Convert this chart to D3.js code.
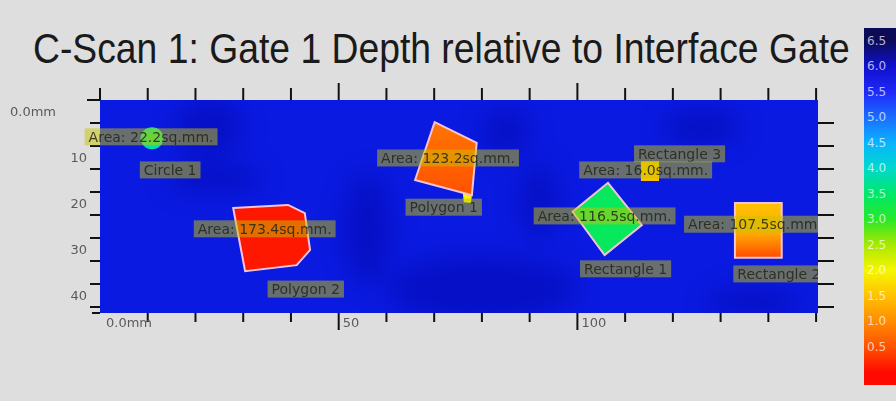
<!DOCTYPE html>
<html>
<head>
<meta charset="utf-8">
<script src="https://cdn.jsdelivr.net/npm/d3@7"></script>
<style>
  html, body { margin: 0; padding: 0; background: #dedede; }
  svg { display: block; }
</style>
</head>
<body>
<svg id="chart" width="896" height="401"></svg>
<script>
// ---------- DATA ----------
const titleText = "C-Scan 1: Gate 1 Depth relative to Interface Gate";
const xTickValues = [0,10,20,30,40,50,60,70,80,90,100,110,120,130,140,150];
const xMajorTicks = [50, 100];
const yTickValues = [0,5,10,15,20,25,30,35,40,45];
const yLabelValues = [0,10,20,30,40];
const yLabelTexts = ["0.0mm","10","20","30","40"];
const colorbarLabels = ["6.5","6.0","5.5","5.0","4.5","4.0","3.5","3.0","2.5","2.0","1.5","1.0","0.5",""];
const colorbarValues = [6.5,6.0,5.5,5.0,4.5,4.0,3.5,3.0,2.5,2.0,1.5,1.0,0.5,0.0];
const colorbarColors = ["#0b0b58","#1010cc","#2028f8","#1a6cff","#08b4ff","#00d8cc","#00e86a","#28e82a","#a8e800","#f6f600","#ffc200","#ff8c00","#ff5200","#ff0a00"];

// background depth variation (mm coords): darker patches in the scan
const bgPatches = [
  {x: 23, y: 6, rx: 7, ry: 6},
  {x: 24, y: 17, rx: 10, ry: 3},
  {x: 56, y: 28, rx: 5, ry: 12},
  {x: 80, y: 41, rx: 20, ry: 7},
  {x: 85, y: 7, rx: 5, ry: 5},
  {x: 126, y: 6, rx: 8, ry: 4},
  {x: 92, y: 22, rx: 4, ry: 8},
  {x: 137, y: 44, rx: 10, ry: 3}
];

// defects (mm coords) and depth value
const polygon2 = [[27.9,23.5],[39.4,22.8],[42.9,24.6],[44.0,32.6],[41.2,35.9],[30.4,37.2]];
const polygon2Depth = 0.1;
const polygon1 = [[70.1,4.8],[78.9,9.3],[77.9,20.7],[66.0,17.4]];
const polygon1Depth = 0.6;
const polygon1Tail = [[76.0,20.2],[77.9,20.7],[77.7,22.4],[76.2,22.2]];
const polygon1TailDepth = 2.0;
const rectangle1 = [[106.4,18.0],[113.5,27.2],[105.7,33.7],[99.0,24.3]];
const rectangle1Depth = 3.4;
const rectangle2 = [[133.0,22.4],[142.8,22.4],[142.8,34.3],[133.0,34.3]];
const rectangle2DepthTop = 1.5;
const rectangle2DepthBottom = 0.45;
const rectangle3 = [[113.3,13.3],[117.1,13.3],[117.1,17.6],[113.3,17.6]];
const rectangle3Depth = 1.5;
const circle1 = {cx: 10.9, cy: 8.3, r: 2.4};
const circle1Depth = 3.3;

// annotation labels (text centre in mm)
const labelTexts = ["Area: 22.2sq.mm.","Circle 1","Area: 173.4sq.mm.","Polygon 2","Area: 123.2sq.mm.","Polygon 1","Area: 116.5sq.mm.","Rectangle 1","Rectangle 3","Area: 16.0sq.mm.","Area: 107.5sq.mm.","Rectangle 2"];
const labelX = [10.7, 14.7, 34.5, 43.1, 72.9, 72.0, 105.7, 110.1, 121.4, 114.3, 137.2, 142.2];
const labelY = [8.0, 15.2, 28.0, 41.1, 12.6, 23.3, 25.2, 36.7, 11.7, 15.2, 27.0, 37.8];

// ---------- DRAW ----------
const svg = d3.select("#chart");
const W = 896, H = 401;
const plot = {left: 100, right: 818, top: 100, bottom: 313};
const x = d3.scaleLinear().domain([0, 150.4]).range([plot.left, plot.right]);
const y = d3.scaleLinear().domain([0, 46.3]).range([plot.top, plot.bottom]);
const color = d3.scaleLinear().domain(colorbarValues).range(colorbarColors).clamp(true);

const defs = svg.append("defs");
defs.append("filter").attr("id","blur").attr("x","-50%").attr("y","-50%").attr("width","200%").attr("height","200%")
  .append("feGaussianBlur").attr("stdDeviation", 12);
defs.append("clipPath").attr("id","plotclip").append("rect")
  .attr("x", plot.left).attr("y", plot.top).attr("width", plot.right-plot.left).attr("height", plot.bottom-plot.top);
defs.append("clipPath").attr("id","labelclip").append("rect")
  .attr("x", 0).attr("y", 0).attr("width", plot.right).attr("height", H);

// background
svg.append("rect").attr("width", W).attr("height", H).attr("fill", "#dedede");

// title
svg.append("text").attr("transform", "translate(33,63) scale(1,1.12)")
  .attr("font-family", "'Liberation Sans', Arial, sans-serif").attr("font-size", 37.3)
  .attr("fill", "#1a1a1a")
  .text(titleText);

// plot area
const pg = svg.append("g").attr("clip-path", "url(#plotclip)");
pg.append("rect").attr("x", plot.left).attr("y", plot.top)
  .attr("width", plot.right-plot.left).attr("height", plot.bottom-plot.top).attr("fill", "#0a1ae0");
pg.append("g").attr("filter","url(#blur)").selectAll("ellipse").data(bgPatches).join("ellipse")
  .attr("cx", d => x(d.x)).attr("cy", d => y(d.y))
  .attr("rx", d => x(d.rx) - x(0)).attr("ry", d => y(d.ry) - y(0))
  .attr("fill", "#050c9a").attr("opacity", 0.38);

const line = d3.line().x(d => x(d[0])).y(d => y(d[1])).curve(d3.curveLinearClosed);
const outline = "#f4c4d6";

// gradients
const g2 = defs.append("linearGradient").attr("id","rect2grad").attr("x1",0).attr("y1",0).attr("x2",0).attr("y2",1);
g2.append("stop").attr("offset","0%").attr("stop-color", color(rectangle2DepthTop));
g2.append("stop").attr("offset","55%").attr("stop-color", color((rectangle2DepthTop+rectangle2DepthBottom)/2+0.3));
g2.append("stop").attr("offset","100%").attr("stop-color", color(rectangle2DepthBottom));
const gc = defs.append("radialGradient").attr("id","circgrad");
gc.append("stop").attr("offset","0%").attr("stop-color", color(circle1Depth));
gc.append("stop").attr("offset","100%").attr("stop-color", color(circle1Depth+0.6));
const gp1 = defs.append("linearGradient").attr("id","poly1grad").attr("x1",0).attr("y1",0).attr("x2",0).attr("y2",1);
gp1.append("stop").attr("offset","0%").attr("stop-color", color(polygon1Depth+0.2));
gp1.append("stop").attr("offset","100%").attr("stop-color", color(polygon1Depth-0.1));

pg.append("path").attr("d", line(polygon2)).attr("fill", color(polygon2Depth)).attr("stroke", outline).attr("stroke-width", 2);
pg.append("path").attr("d", line(polygon1Tail)).attr("fill", color(polygon1TailDepth));
pg.append("path").attr("d", line(polygon1)).attr("fill", "url(#poly1grad)").attr("stroke", outline).attr("stroke-width", 2);
pg.append("path").attr("d", line(rectangle1)).attr("fill", color(rectangle1Depth)).attr("stroke", outline).attr("stroke-width", 2);
pg.append("path").attr("d", line(rectangle2)).attr("fill", "url(#rect2grad)").attr("stroke", outline).attr("stroke-width", 2);
pg.append("path").attr("d", line(rectangle3)).attr("fill", color(rectangle3Depth));
pg.append("ellipse").attr("cx", x(circle1.cx)).attr("cy", y(circle1.cy))
  .attr("rx", x(circle1.r)-x(0)).attr("ry", y(circle1.r)-y(0)).attr("fill", "url(#circgrad)");

// axes ticks
const tickColor = "#111";
const ax = svg.append("g").attr("stroke", tickColor).attr("stroke-width", 2);
ax.selectAll("line.top").data(xTickValues).join("line")
  .attr("x1", d => x(d)).attr("x2", d => x(d))
  .attr("y1", d => xMajorTicks.includes(d) ? plot.top - 17 : plot.top - 12).attr("y2", plot.top);
ax.selectAll("line.bot").data(xTickValues.filter(d => d > 0)).join("line")
  .attr("x1", d => x(d)).attr("x2", d => x(d))
  .attr("y1", plot.bottom).attr("y2", d => xMajorTicks.includes(d) ? plot.bottom + 17 : plot.bottom + 9);
ax.selectAll("line.left").data(yTickValues).join("line")
  .attr("x1", d => d === 0 ? plot.left - 13 : plot.left - 10).attr("x2", plot.left)
  .attr("y1", d => y(d)).attr("y2", d => y(d));
ax.append("line").attr("x1", plot.left - 8).attr("x2", plot.left).attr("y1", plot.bottom).attr("y2", plot.bottom);
ax.selectAll("line.right").data(yTickValues.filter(d => d > 0)).join("line")
  .attr("x1", plot.right).attr("x2", plot.right + 16)
  .attr("y1", d => y(d)).attr("y2", d => y(d));

// axis labels
const lab = svg.append("g").attr("font-family", "'DejaVu Sans', Verdana, sans-serif").attr("font-size", 13).attr("fill", "#5a5a5a");
lab.selectAll("text.yl").data(yLabelValues).join("text")
  .attr("x", (d,i) => i === 0 ? 10 : 87).attr("text-anchor", (d,i) => i === 0 ? "start" : "end")
  .attr("y", d => y(d) + 11).attr("dominant-baseline", "central")
  .text((d,i) => yLabelTexts[i]);
lab.append("text").attr("x", x(0) + 6).attr("y", plot.bottom + 9).attr("dominant-baseline", "central").text("0.0mm");
lab.selectAll("text.xl").data(xMajorTicks).join("text")
  .attr("x", d => x(d) + 4).attr("y", plot.bottom + 9).attr("dominant-baseline", "central").text(d => d);

// annotation labels
const lg = svg.append("g").attr("clip-path", "url(#labelclip)")
  .attr("font-family", "'DejaVu Sans', Verdana, sans-serif").attr("font-size", 14);
labelTexts.forEach((t, i) => {
  const grp = lg.append("g");
  const txt = grp.append("text").attr("x", x(labelX[i])).attr("y", y(labelY[i]))
    .attr("text-anchor", "middle").attr("dominant-baseline", "central")
    .attr("fill", "#262616").attr("fill-opacity", 0.85).text(t);
  const bb = txt.node().getBBox();
  grp.insert("rect", "text").attr("x", bb.x - 4).attr("y", y(labelY[i]) - 8.5)
    .attr("width", bb.width + 8).attr("height", 17)
    .attr("fill", "#c6c400").attr("fill-opacity", 0.5);
});

// colorbar
const cbTop = 28, cbSeg = 25.5, cbLeft = 864, cbW = 34;
const cbGrad = defs.append("linearGradient").attr("id","cbgrad").attr("x1",0).attr("y1",0).attr("x2",0).attr("y2",1);
colorbarColors.forEach((c, i) => {
  cbGrad.append("stop").attr("offset", ((i + 0.5) / colorbarColors.length * 100) + "%").attr("stop-color", c);
});
svg.append("rect").attr("x", cbLeft).attr("y", cbTop).attr("width", cbW)
  .attr("height", cbSeg * colorbarColors.length).attr("fill", "url(#cbgrad)");
svg.append("g").attr("font-family", "'DejaVu Sans', Verdana, sans-serif").attr("font-size", 12)
  .attr("fill", "#ffffff").attr("fill-opacity", 0.7)
  .selectAll("text").data(colorbarLabels).join("text")
  .attr("x", cbLeft + 3).attr("y", (d,i) => cbTop + cbSeg * (i + 0.5))
  .attr("dominant-baseline", "central").text(d => d);
</script>
</body>
</html>
